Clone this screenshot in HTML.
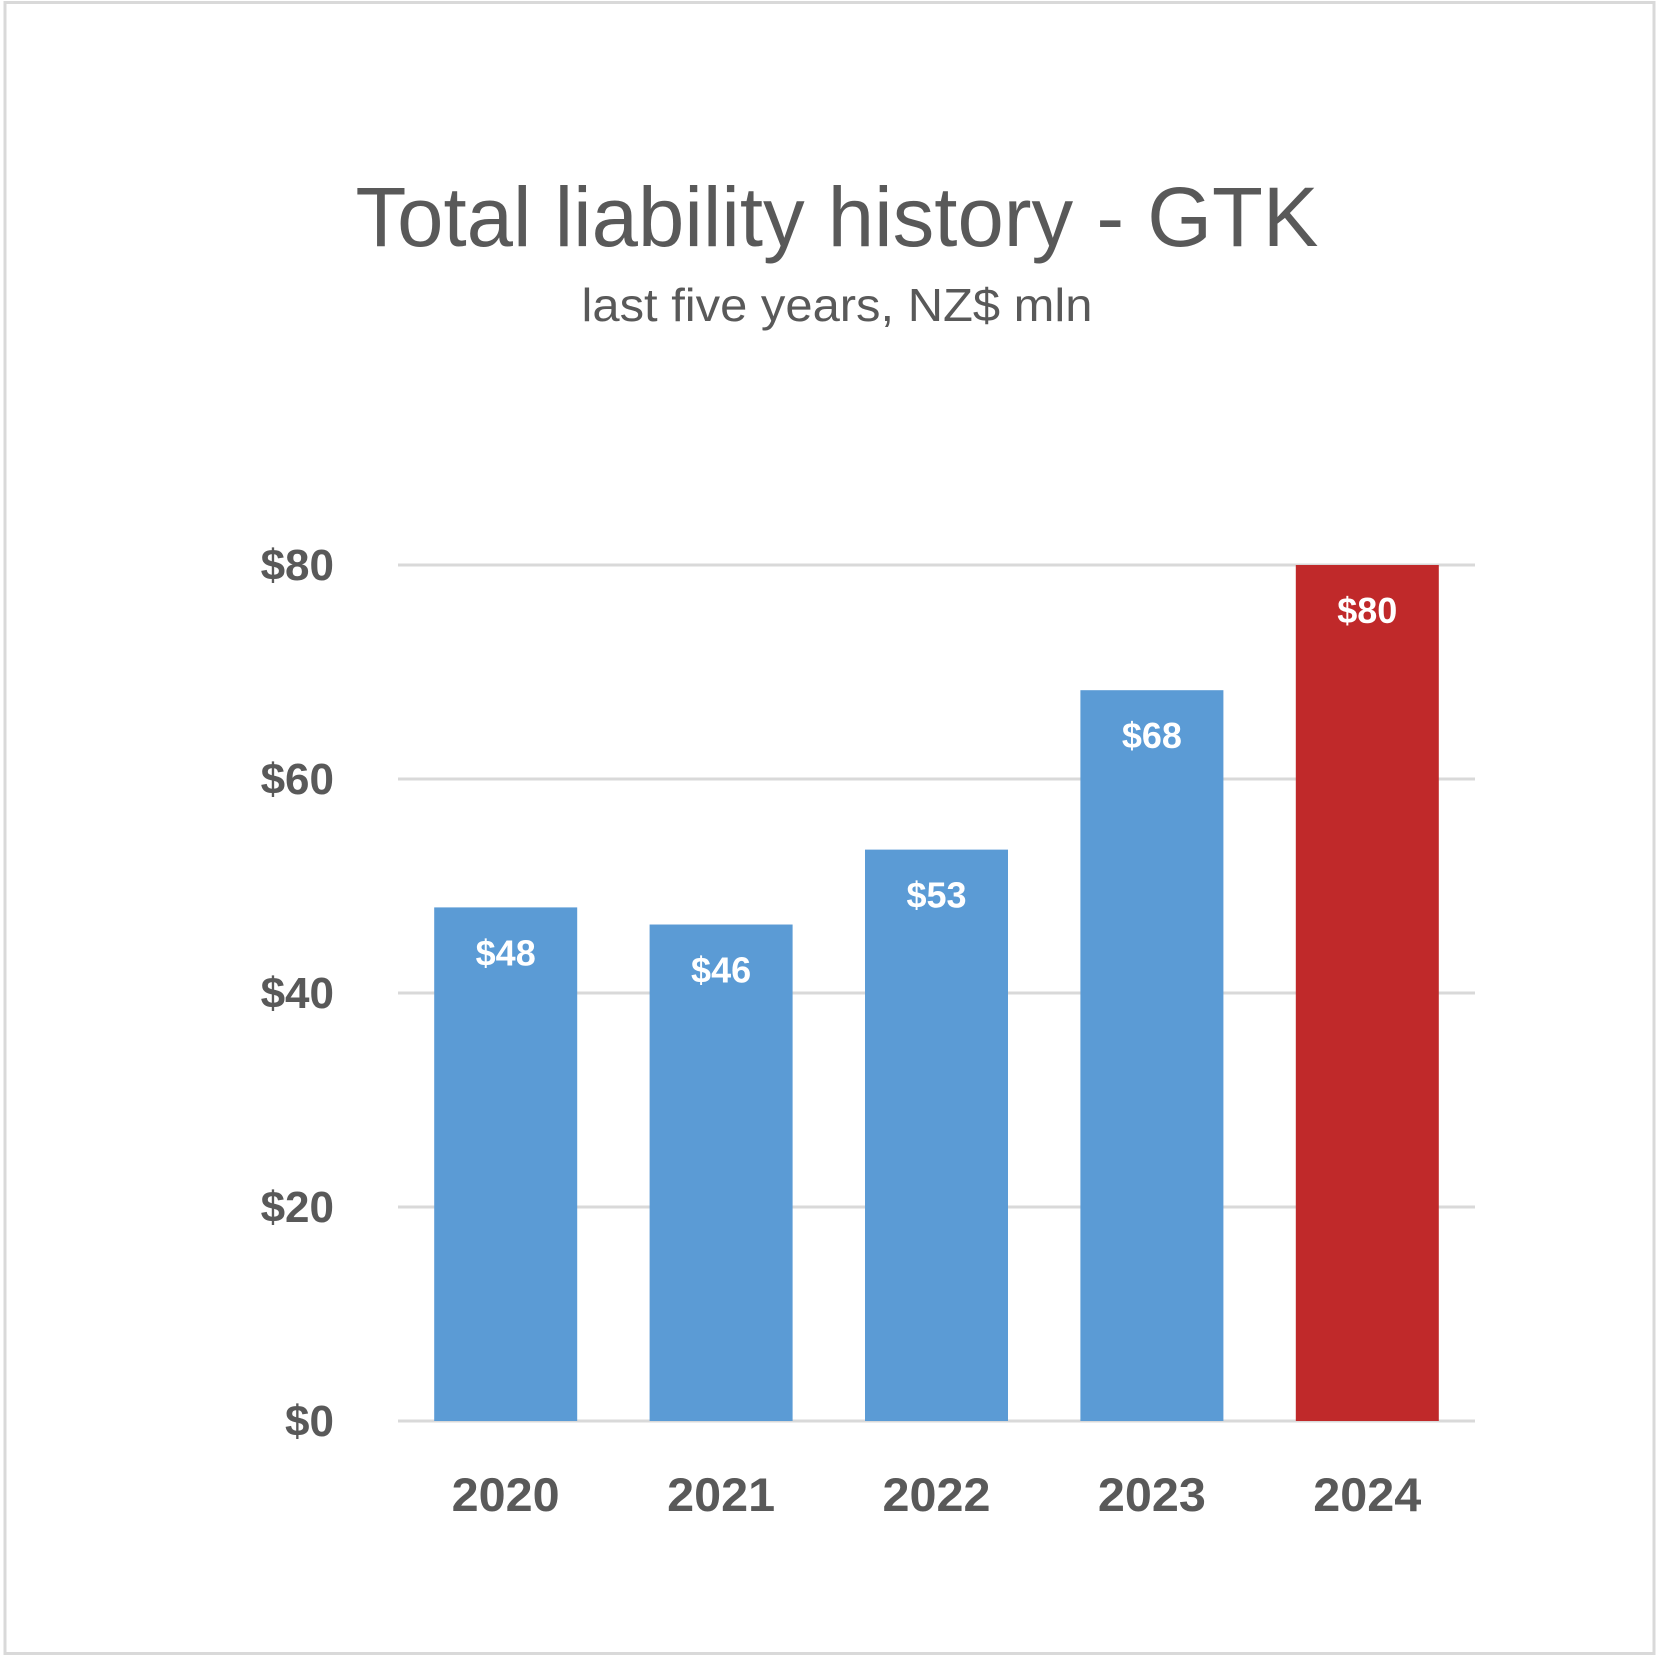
<!DOCTYPE html>
<html><head><meta charset="utf-8"><style>
html,body{margin:0;padding:0;background:#fff;}
svg{display:block;font-family:"Liberation Sans",sans-serif;}
</style></head><body>
<svg id="chart" width="1663" height="1659" viewBox="0 0 1663 1659" xmlns="http://www.w3.org/2000/svg">
<rect x="5" y="2.5" width="1649" height="1651" fill="#fff" stroke="#d9d9d9" stroke-width="3"/>
<text x="837" y="246" text-anchor="middle" font-size="84" fill="#595959" textLength="963" lengthAdjust="spacingAndGlyphs">Total liability history - GTK</text>
<text x="837" y="321" text-anchor="middle" font-size="46" fill="#595959" textLength="511" lengthAdjust="spacingAndGlyphs">last five years, NZ$ mln</text>
<g id="grid"></g><g id="bars"></g><g id="labels"></g>
</svg>
<script>
const categories = ["2020","2021","2022","2023","2024"];
const values = [48,46.4,53.4,68.3,80];
const valueLabels = ["$48","$46","$53","$68","$80"];
const yTicks = [0,20,40,60,80];
const yTickLabels = ["$0","$20","$40","$60","$80"];
const NS="http://www.w3.org/2000/svg";
const plotL=398, plotR=1475, y0=1421, yTop=565, yMax=80;
const y = v => y0 - (v/yMax)*(y0-yTop);
const band=(plotR-plotL)/categories.length;
const x = i => plotL + band*(i+0.5);
function mk(tag, attrs, parent){const e=document.createElementNS(NS,tag);for(const k in attrs)e.setAttribute(k,attrs[k]);document.getElementById(parent).appendChild(e);return e;}
yTicks.forEach((t,i)=>{
  const l=mk('line',{x1:plotL,x2:plotR,y1:y(t),y2:y(t),stroke:'#d9d9d9','stroke-width':3},'grid');
  
  
  const tx=mk('text',{x:334,y:y(t)+15,'text-anchor':'end','font-size':44,'font-weight':'bold',fill:'#595959'},'labels');
  tx.textContent=yTickLabels[i];
  
  
});
categories.forEach((c,i)=>{
  const bw=143;
  const r=mk('rect',{x:x(i)-bw/2,y:y(values[i]),width:bw,height:y0-y(values[i]),fill:i===4?'#C0292A':'#5B9BD5'},'bars');
  
  
  const v=mk('text',{x:x(i),y:y(values[i])+58,'text-anchor':'middle','font-size':36,'font-weight':'bold',fill:'#fff'},'labels');
  v.textContent=valueLabels[i];
  
  
  const xl=mk('text',{x:x(i),y:1511,'text-anchor':'middle','font-size':47,'font-weight':'bold',fill:'#595959',textLength:108,lengthAdjust:'spacingAndGlyphs'},'labels');
  xl.textContent=c;
  
  
});
</script>
</body></html>
